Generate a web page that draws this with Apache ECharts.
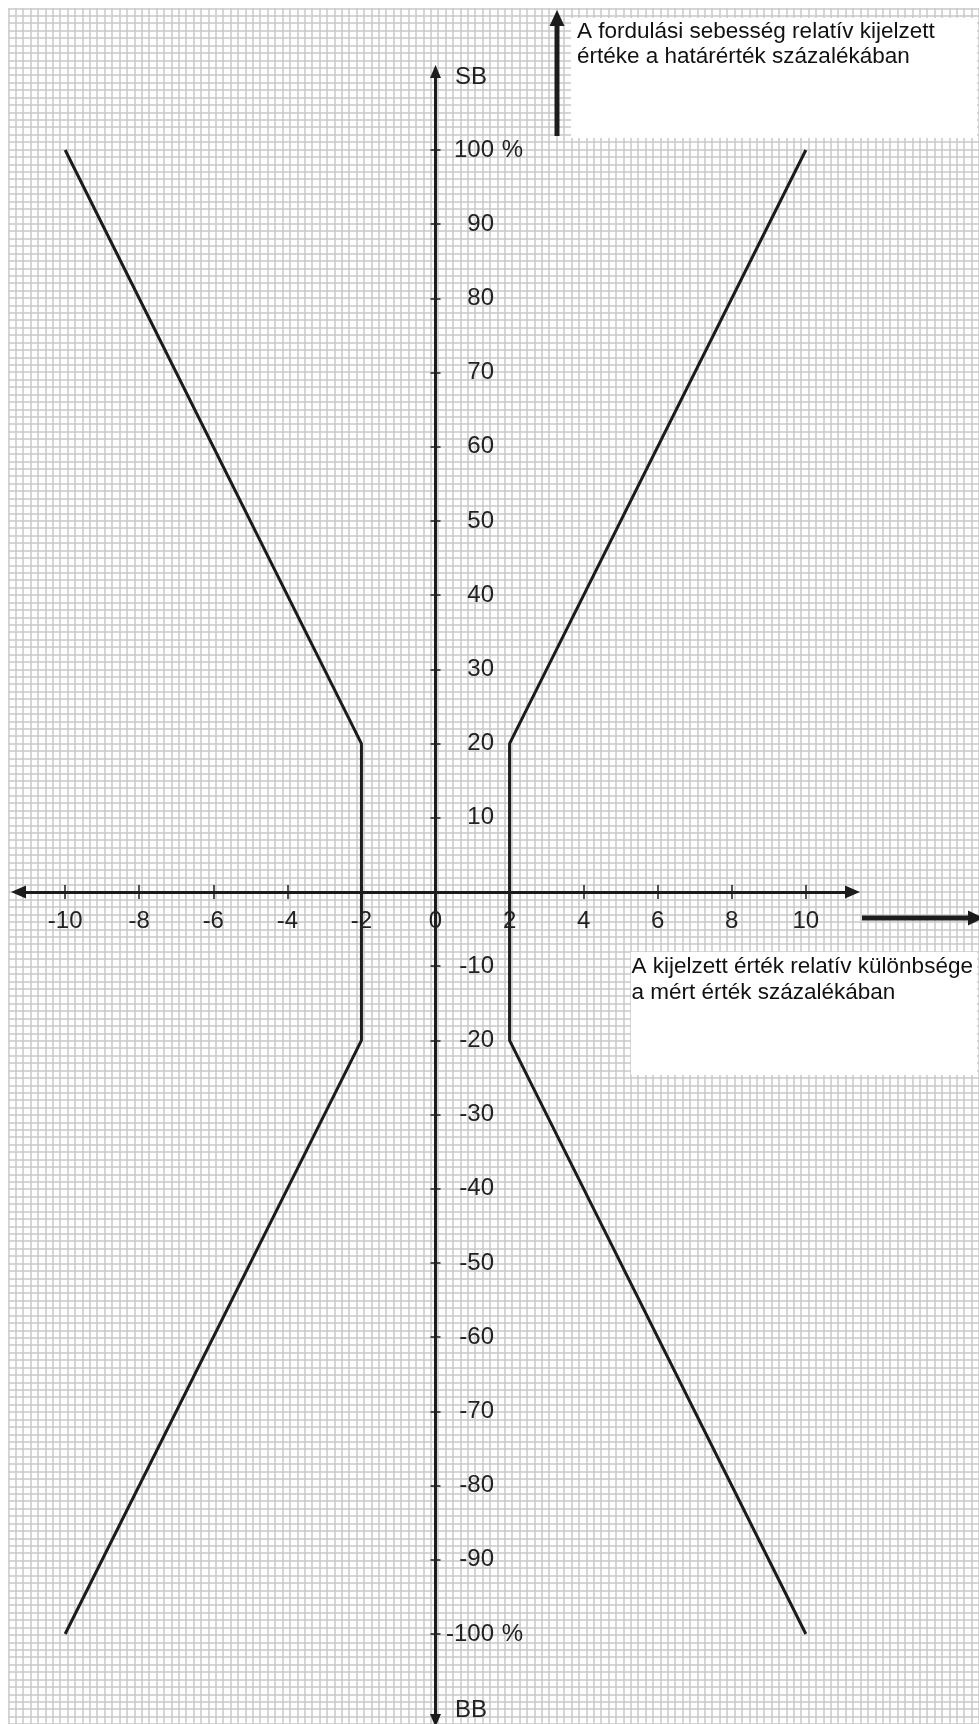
<!DOCTYPE html>
<html>
<head>
<meta charset="utf-8">
<script src="https://cdn.jsdelivr.net/npm/echarts@6/dist/echarts.min.js"></script>
<style>
  html, body { margin: 0; padding: 0; background: #ffffff; }
  #chart { width: 979px; height: 1724px; }
</style>
</head>
<body>
<div id="chart"></div>
<script>
// Tick values of the two axes
const xTickValues = [-10, -8, -6, -4, -2, 0, 2, 4, 6, 8, 10];
const yTickValues = [100, 90, 80, 70, 60, 50, 40, 30, 20, 10,
                     -10, -20, -30, -40, -50, -60, -70, -80, -90, -100];
const percentTicks = [100, -100];

// Limit curves: [deviation %, relative speed %]
const rightBranch = [[10, 100], [2, 20], [2, -20], [10, -100]];
const leftBranch = [[-10, 100], [-2, 20], [-2, -20], [-10, -100]];

// Axis names and captions
const yAxisTopName = 'SB';
const yAxisBottomName = 'BB';
const yCaption = 'A fordulási sebesség relatív kijelzett\nértéke a határérték százalékában';
const xCaption = 'A kijelzett érték relatív különbsége\na mért érték százalékában';

const FONT = '"Liberation Sans", Arial, Helvetica, sans-serif';
const INK = '#1c1c1c';
const PAPER = '#c8c8c8';

const W = 979, H = 1724;
const X_MIN = -11.26, X_MAX = 11.26;
const Y_MIN = -111.66, Y_MAX = 110.58;
const plot = { left: 18.5, right: 126.5, top: 71.5, bottom: 3.5 };
const plotW = W - plot.left - plot.right;
const plotH = H - plot.top - plot.bottom;
const zeroX = plot.left + (0 - X_MIN) / (X_MAX - X_MIN) * plotW;
const zeroY = plot.top + (Y_MAX - 0) / (Y_MAX - Y_MIN) * plotH;
// shift the axes so that they cross at the origin
const xAxisOffset = zeroY - (H - plot.bottom);
const yAxisOffset = plot.left - zeroX;

const hidden = { show: false };

const chart = echarts.init(document.getElementById('chart'), null, { renderer: 'canvas' });

const xMain = {
  gridIndex: 1, type: 'value', min: X_MIN, max: X_MAX, position: 'bottom', offset: xAxisOffset, z: 3,
  axisLine: { show: true, onZero: false, symbol: ['triangle', 'triangle'], symbolSize: [13, 15],
              lineStyle: { color: INK, width: 3 } },
  axisTick: { show: true, length: 7, customValues: xTickValues, lineStyle: { color: INK, width: 1.5 } },
  axisLabel: { show: true, customValues: xTickValues, margin: 17, fontSize: 24,
               color: '#222', fontFamily: FONT },
  splitLine: hidden
};
const xTicksUp = {
  gridIndex: 1, type: 'value', min: X_MIN, max: X_MAX, position: 'bottom', offset: xAxisOffset, z: 3,
  axisLine: { show: false, onZero: false },
  axisTick: { show: true, inside: true, length: 7, customValues: xTickValues, lineStyle: { color: INK, width: 1.5 } },
  axisLabel: hidden, splitLine: hidden
};

const richNum = { fontSize: 24, fontFamily: FONT, color: '#222' };
const yMain = {
  gridIndex: 1, type: 'value', min: Y_MIN, max: Y_MAX, position: 'left', offset: yAxisOffset, z: 3,
  name: yAxisTopName, nameLocation: 'end', nameGap: -5.5,
  nameTextStyle: { align: 'left', verticalAlign: 'middle', padding: [0, 0, 0, 19.5],
                   fontSize: 24, fontFamily: FONT, color: '#222' },
  axisLine: { show: true, onZero: false, symbol: ['triangle', 'triangle'], symbolSize: [11, 13],
              lineStyle: { color: INK, width: 3 } },
  axisTick: { show: true, length: 5, customValues: yTickValues, lineStyle: { color: INK, width: 1.5 } },
  axisLabel: {
    show: true, inside: true, align: 'right', margin: 88.5, customValues: yTickValues,
    formatter: v => percentTicks.includes(v) ? `{n|${v}}{p| %}` : `{n|${v}}{p| }`,
    rich: { n: richNum, p: Object.assign({ width: 30, align: 'left' }, richNum) }
  },
  splitLine: hidden
};
const yTicksRight = {
  gridIndex: 1, type: 'value', min: Y_MIN, max: Y_MAX, position: 'left', offset: yAxisOffset, z: 3,
  name: yAxisBottomName, nameLocation: 'start', nameGap: -10,
  nameTextStyle: { align: 'left', verticalAlign: 'middle', padding: [0, 0, 0, 19.5],
                   fontSize: 24, fontFamily: FONT, color: '#222' },
  axisLine: { show: false, onZero: false },
  axisTick: { show: true, inside: true, length: 5, customValues: yTickValues, lineStyle: { color: INK, width: 1.5 } },
  axisLabel: hidden, splitLine: hidden
};

const curve = (name, data) => ({
  type: 'line', name, xAxisIndex: 1, yAxisIndex: 1, data,
  symbol: 'none', silent: true, z: 2,
  lineStyle: { color: INK, width: 3 }
});

chart.setOption({
  animation: false,
  backgroundColor: '#ffffff',
  grid: [
    // graph paper
    { left: 8.3, top: 8.3, right: 0, bottom: 0, containLabel: false },
    // coordinate system of the curves
    Object.assign({ containLabel: false }, plot)
  ],
  xAxis: [
    { gridIndex: 0, type: 'value', min: 0, max: 131, interval: 1, z: -2,
      axisLine: hidden, axisTick: hidden, axisLabel: hidden,
      splitLine: { show: true, lineStyle: { color: PAPER, width: 1.5 } } },
    xMain, xTicksUp
  ],
  yAxis: [
    { gridIndex: 0, type: 'value', min: 0, max: 231, interval: 1, inverse: true, z: -2,
      axisLine: hidden, axisTick: hidden, axisLabel: hidden,
      splitLine: { show: true, lineStyle: { color: PAPER, width: 1.5 } } },
    yMain, yTicksRight
  ],
  series: [curve('bal', leftBranch), curve('jobb', rightBranch)],
  graphic: [
    { type: 'rect', z: -1, shape: { x: 571, y: 18, width: 406, height: 120 }, style: { fill: '#ffffff' } },
    { type: 'rect', z: -1, shape: { x: 631, y: 952, width: 346, height: 123 }, style: { fill: '#ffffff' } },
    { type: 'text', z: 5, x: 577, y: 19.5,
      style: { text: yCaption, font: '22.5px ' + FONT, fill: '#111', lineHeight: 25, verticalAlign: 'top' } },
    { type: 'text', z: 5, x: 631.5, y: 954,
      style: { text: xCaption, font: '22.5px ' + FONT, fill: '#111', lineHeight: 25.7, verticalAlign: 'top' } },
    // vertical caption arrow
    { type: 'rect', z: 5, shape: { x: 554.5, y: 24, width: 5, height: 112 }, style: { fill: INK } },
    { type: 'polygon', z: 5, shape: { points: [[557, 10], [549.5, 26], [564.5, 26]] }, style: { fill: INK } },
    // horizontal caption arrow
    { type: 'rect', z: 5, shape: { x: 862, y: 915.5, width: 110, height: 5 }, style: { fill: INK } },
    { type: 'polygon', z: 5, shape: { points: [[984, 918], [968, 910.5], [968, 925.5]] }, style: { fill: INK } }
  ]
});
</script>
</body>
</html>
